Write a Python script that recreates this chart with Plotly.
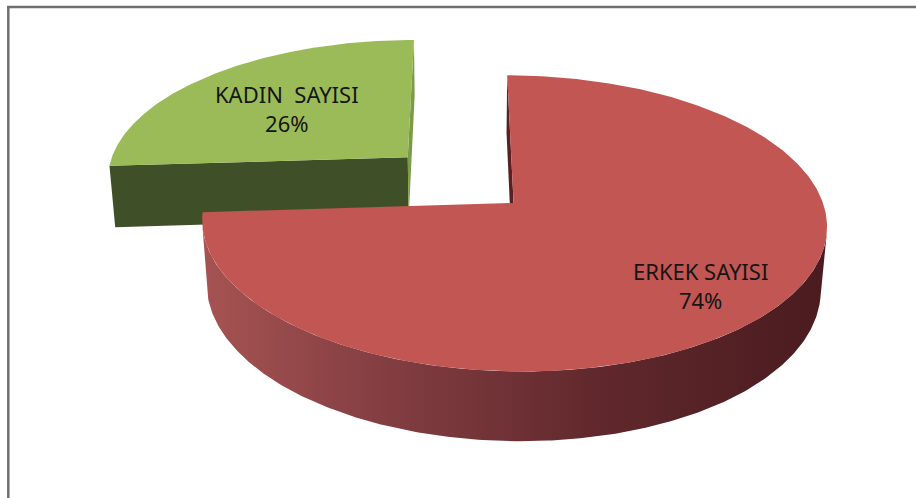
import numpy as np
import plotly.graph_objects as go

# ---------------- data ----------------
LABELS = ["ERKEK SAYISI", "KADIN  SAYISI"]
VALUES = [74, 26]

# ---------------- style ----------------
TOP_COLORS = ["#c15653", "#9bbb59"]
SIDE_SCALES = [
    [[0, "#a65352"], [0.32, "#803c40"], [0.64, "#60282c"], [1, "#4a1b1f"]],
    [[0, "#5f7a35"], [1, "#3f5028"]],
]
START_FACE_COLORS = ["#5a2024", "#3f5028"]
END_FACE_COLORS = ["#5a2024", "#7c9b46"]
PULL = [0.0, 0.48]
LABEL_POS = [(700, 285), (287, 108)]

# camera / projection set-up (pixel space of the 916x498 page)
ELEV = np.radians(28.0)
DIST = 6.4
FOCAL = 1980.0
CAMX = -0.17
SX0, SY0 = 461.0, 203.0
THICK = 0.235
C, S = np.cos(ELEV), np.sin(ELEV)
CAM = np.array([CAMX, -DIST * C, DIST * S])


def proj(X, Y, Z):
    X = np.asarray(X, float); Y = np.asarray(Y, float); Z = np.asarray(Z, float)
    d = Y * C - Z * S + DIST
    sx = SX0 + (X - CAMX) * FOCAL / d
    sy = SY0 - (Y * S + Z * C) * FOCAL / d
    return sx, sy


total = float(sum(VALUES))
fracs = [v / total for v in VALUES]

slices = []
cum = 0.0
for i, f in enumerate(fracs):
    t0 = 90.0 - 360.0 * cum
    t1 = t0 - 360.0 * f
    mid = np.radians((t0 + t1) / 2)
    ox, oy = PULL[i] * np.cos(mid), PULL[i] * np.sin(mid)
    slices.append(dict(i=i, t0=t0, t1=t1, ox=ox, oy=oy, depth=oy + 0.5 * np.sin(mid)))
    cum += f

fig = go.Figure()


def add_poly(xs, ys, color=None, gradient=None):
    xs = list(xs) + [xs[0]]
    ys = list(ys) + [ys[0]]
    kw = dict(x=xs, y=ys, mode="lines", fill="toself", line=dict(width=0),
              hoverinfo="skip", showlegend=False)
    if gradient is not None:
        kw["fillgradient"] = dict(type="horizontal", colorscale=gradient)
        kw["fillcolor"] = gradient[0][1]
    else:
        kw["fillcolor"] = color
    fig.add_trace(go.Scatter(**kw))


# farther slices first
for sl in sorted(slices, key=lambda s: -s["depth"]):
    i, t0, t1, ox, oy = sl["i"], sl["t0"], sl["t1"], sl["ox"], sl["oy"]
    th = np.radians(np.linspace(t0, t1, 400))
    ax, ay = ox + np.cos(th), oy + np.sin(th)

    # outer curved side
    vis = np.cos(th) * (CAM[0] - ax) + np.sin(th) * (CAM[1] - ay) > 0
    if vis.sum() > 1:
        idx = np.where(vis)[0]
        vx, vy = ax[idx], ay[idx]
        tx, ty = proj(vx, vy, np.zeros_like(vx))
        bx, by = proj(vx, vy, -THICK * np.ones_like(vx))
        add_poly(np.concatenate([tx, bx[::-1]]), np.concatenate([ty, by[::-1]]),
                 gradient=SIDE_SCALES[i])

    # radial cut faces
    for ang, nang, col in [(t0, t0 + 90, START_FACE_COLORS[i]), (t1, t1 - 90, END_FACE_COLORS[i])]:
        a, na = np.radians(ang), np.radians(nang)
        n = np.array([np.cos(na), np.sin(na)])
        pm = np.array([ox + 0.5 * np.cos(a), oy + 0.5 * np.sin(a)])
        if n @ (CAM[:2] - pm) > 0:
            X = [ox, ox + np.cos(a), ox + np.cos(a), ox]
            Y = [oy, oy + np.sin(a), oy + np.sin(a), oy]
            Z = [0, 0, -THICK, -THICK]
            px, py = proj(X, Y, Z)
            add_poly(px, py, color=col)

    # top face
    X = np.concatenate([[ox], ax])
    Y = np.concatenate([[oy], ay])
    px, py = proj(X, Y, np.zeros_like(X))
    add_poly(px, py, color=TOP_COLORS[i])

for i, (lab, f) in enumerate(zip(LABELS, fracs)):
    fig.add_annotation(x=LABEL_POS[i][0], y=LABEL_POS[i][1],
                       text=f"{lab}<br>{round(f * 100)}%", showarrow=False,
                       font=dict(family="Noto Sans", size=22, color="#151515"),
                       xanchor="center", yanchor="middle")

# chart-area frame (left and top edges visible in the crop)
fig.add_shape(type="line", x0=8.3, y0=7, x1=8.3, y1=498, xref="x", yref="y",
              line=dict(color="#6f6f6f", width=2.5))
fig.add_shape(type="line", x0=7, y0=7, x1=916, y1=7, xref="x", yref="y",
              line=dict(color="#6f6f6f", width=2.5))

fig.update_layout(
    width=916, height=498, margin=dict(l=0, r=0, t=0, b=0),
    paper_bgcolor="white", plot_bgcolor="white",
    xaxis=dict(range=[0, 916], visible=False, fixedrange=True),
    yaxis=dict(range=[498, 0], visible=False, fixedrange=True),
    showlegend=False,
)
fig.write_html("out.html", config={"displayModeBar": False},
               post_script="document.body.style.margin='0';document.body.style.overflow='hidden';")
